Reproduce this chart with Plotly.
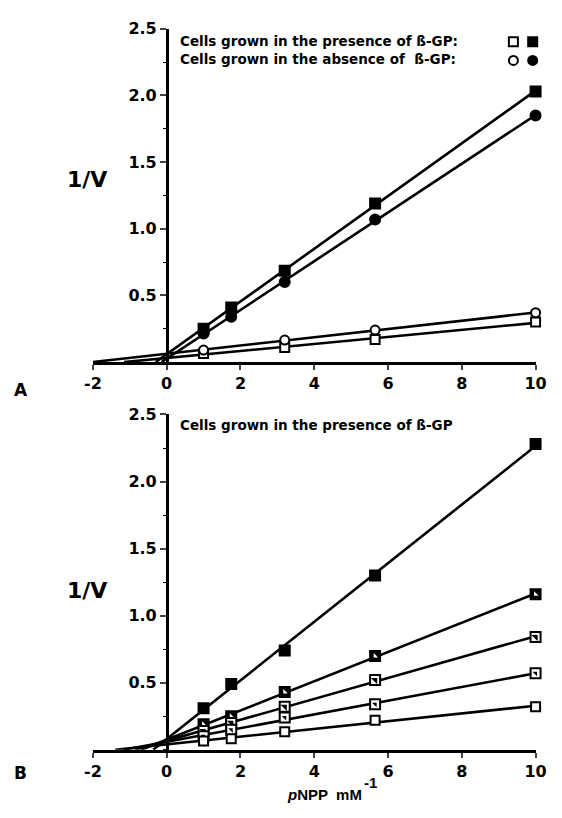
import numpy as np
import plotly.graph_objects as go

# ---------------- data ----------------
x_inv_s = [1.0, 1.75, 3.2, 5.65, 10.0]          # 1/[pNPP] (mM^-1)

# Panel A
a_pres_filled = [0.25, 0.41, 0.685, 1.19, 2.03]   # filled squares
a_abs_filled = [0.215, 0.34, 0.60, 1.07, 1.85]    # filled circles
a_x_open = [1.0, 3.2, 5.65, 10.0]
a_pres_open = [0.065, 0.11, 0.17, 0.30]           # open squares
a_abs_open = [0.09, 0.165, 0.24, 0.37]            # open circles

# Panel B
b_s1 = [0.31, 0.49, 0.74, 1.30, 2.28]
b_s2 = [0.19, 0.25, 0.43, 0.70, 1.16]
b_s3 = [0.14, 0.20, 0.32, 0.52, 0.84]
b_s4 = [0.10, 0.15, 0.24, 0.34, 0.57]
b_s5 = [0.066, 0.083, 0.135, 0.22, 0.32]

x_ticks = [-2, 0, 2, 4, 6, 8, 10]
x_tick_text = ["-2", "0", "2", "4", "6", "8", "10"]
y_ticks = [0.5, 1.0, 1.5, 2.0, 2.5]
y_tick_text = ["0.5", "1.0", "1.5", "2.0", "2.5"]

FONT = "DejaVu Sans"
FONT2 = "Liberation Sans"
W, H = 562, 818

fig = go.Figure()


def fit_line(xs, ys, xa, ya):
    m, b = np.polyfit(xs, ys, 1)
    x0 = max(-b / m, -2.0) if m > 0 else -2.0
    xl = [x0, 10.0]
    yl = [m * v + b for v in xl]
    fig.add_trace(go.Scatter(x=xl, y=yl, mode="lines", xaxis=xa, yaxis=ya,
                             line=dict(color="black", width=2.6),
                             showlegend=False, hoverinfo="skip"))


def markers(xs, ys, xa, ya, symbol, fill, size=10, lw=2):
    fig.add_trace(go.Scatter(x=xs, y=ys, mode="markers", xaxis=xa, yaxis=ya,
                             marker=dict(symbol=symbol, size=size, color=fill,
                                         line=dict(color="black", width=lw)),
                             showlegend=False, hoverinfo="skip", cliponaxis=False))


# Panel A lines + markers
for ys in (a_pres_filled, a_abs_filled):
    fit_line(x_inv_s, ys, "x", "y")
for ys in (a_pres_open, a_abs_open):
    fit_line(a_x_open, ys, "x", "y")
markers(x_inv_s, a_pres_filled, "x", "y", "square", "black", 10)
markers(x_inv_s, a_abs_filled, "x", "y", "circle", "black", 10)
markers(a_x_open, a_pres_open, "x", "y", "square", "white", 9)
markers(a_x_open, a_abs_open, "x", "y", "circle", "white", 9)

# Panel B lines + markers
for ys in (b_s1, b_s2, b_s3, b_s4, b_s5):
    fit_line(x_inv_s, ys, "x2", "y2")
markers(x_inv_s, b_s1, "x2", "y2", "square", "black", 10)
markers(x_inv_s, b_s2, "x2", "y2", "square", "black", 10)
markers(x_inv_s, b_s2, "x2", "y2", "triangle-sw", "white", 5, 0)
markers(x_inv_s, b_s3, "x2", "y2", "square", "white", 10)
markers(x_inv_s, b_s3, "x2", "y2", "triangle-ne", "black", 7, 0)
markers(x_inv_s, b_s4, "x2", "y2", "square", "white", 10)
markers(x_inv_s, b_s4, "x2", "y2", "triangle-ne", "black", 5, 0)
markers(x_inv_s, b_s5, "x2", "y2", "square", "white", 9)

# ---------------- layout ----------------
x_dom = [87 / W, 546 / W]
yA_dom = [(H - 357) / H, (H - 20) / H]
yB_dom = [(H - 749) / H, (H - 410) / H]
y_axis_pos = x_dom[0] + (x_dom[1] - x_dom[0]) * 2 / 12

tickfont = dict(family=FONT, size=16, color="black", weight="bold")

xcommon = dict(range=[-2, 10], tickvals=x_ticks, ticktext=x_tick_text,
               ticks="outside", ticklen=5,
               tickwidth=2, showline=True, linecolor="black", linewidth=2.5,
               showgrid=False, zeroline=False, tickfont=tickfont, domain=x_dom,
               fixedrange=True)
ycommon = dict(range=[0, 2.5], tickvals=y_ticks, ticktext=y_tick_text,
               ticks="outside", ticklen=6, tickwidth=2, showline=True,
               linecolor="black", linewidth=2.5, showgrid=False, zeroline=False,
               tickfont=tickfont, anchor="free", position=y_axis_pos,
               minor=dict(dtick=0.25, ticks="outside", ticklen=3, tickwidth=1,
                          tickcolor="black"),
               fixedrange=True)

fig.update_layout(
    width=W, height=H,
    margin=dict(l=0, r=0, t=0, b=0),
    paper_bgcolor="white", plot_bgcolor="rgba(0,0,0,0)",
    xaxis=dict(xcommon, anchor="y"),
    yaxis=dict(ycommon, domain=yA_dom),
    xaxis2=dict(xcommon, anchor="y2"),
    yaxis2=dict(ycommon, domain=yB_dom),
    showlegend=False,
)

txt = dict(family=FONT, size=13.5, color="black", weight="bold")
big = dict(family=FONT, size=22, color="black", weight="bold")
lab = dict(family=FONT, size=17, color="black", weight="bold")
ann = []


def a(x, y, text, font, xanchor="left", yanchor="middle"):
    ann.append(dict(x=x / W, y=1 - y / H, xref="paper", yref="paper", text=text,
                    showarrow=False, font=font, xanchor=xanchor, yanchor=yanchor))


a(175, 32, "Cells grown in the presence of ß-GP:", txt)
a(175, 51, "Cells grown in the absence of  ß-GP:", txt)
a(175, 421, "Cells grown in the presence of ß-GP", txt)
a(81, 172, "1/V", big, "center")
a(81, 588, "1/V", big, "center")
a(12, 385, "A", lab, "center")
a(12, 772, "B", lab, "center")
a(286, 794, "<i>p</i>NPP  mM", dict(family=FONT2, size=15, color="black", weight="bold"))
a(375, 782, "-1", dict(family=FONT2, size=15, color="black", weight="bold"), "center")
fig.update_layout(annotations=ann)

# legend symbols (panel A)
leg_sym = [("square", "white", 523, 33), ("square", "black", 543, 33),
           ("circle", "white", 523, 52), ("circle", "black", 543, 52)]
for sym, fill, px, py in leg_sym:
    fig.add_trace(go.Scatter(x=[px / W], y=[1 - py / H], mode="markers",
                             xaxis="x3", yaxis="y3",
                             marker=dict(symbol=sym, size=9, color=fill,
                                         line=dict(color="black", width=2)),
                             showlegend=False, hoverinfo="skip", cliponaxis=False))
fig.update_layout(
    xaxis3=dict(domain=[0, 1], range=[0, 1], visible=False, anchor="y3", fixedrange=True),
    yaxis3=dict(domain=[0, 1], range=[0, 1], visible=False, anchor="x3", fixedrange=True),
)

fig.write_html("out.html")
